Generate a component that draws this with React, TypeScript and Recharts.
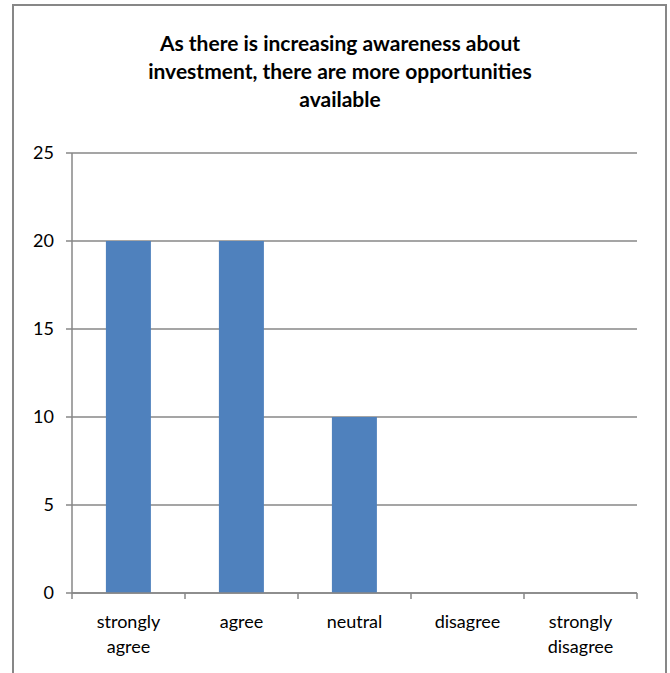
import { BarChart, Bar, XAxis, YAxis, CartesianGrid } from "recharts";

const categories = ["strongly agree", "agree", "neutral", "disagree", "strongly disagree"];
const responses = [20, 20, 10, 0, 0];
const yTicks = [0, 5, 10, 15, 20, 25];

const data = categories.map((name, i) => ({ name, value: responses[i] }));

const FONT = "Lato, 'Open Sans', sans-serif";
const GRAY = "#878787";

// category label plus the tick marks at the band edges
function CategoryTick(props: any) {
  const { x, y, payload, index, visibleTicksCount } = props;
  const half = payload.offset || 0;
  const lines = String(payload.value).split(" ");
  const isLast = index === visibleTicksCount - 1;
  return (
    <g>
      <line x1={x - half} x2={x - half} y1={y} y2={y + 6} stroke={GRAY} strokeWidth={1.5} />
      {isLast && (
        <line x1={x + half} x2={x + half} y1={y} y2={y + 6} stroke={GRAY} strokeWidth={1.5} />
      )}
      <text x={x} y={y} textAnchor="middle" fontFamily={FONT} fontSize={18} fill="#000">
        {lines.map((line, i) => (
          <tspan key={i} x={x} dy={i === 0 ? 35 : 25}>
            {line}
          </tspan>
        ))}
      </text>
    </g>
  );
}

export default function App() {
  return (
    <div
      style={{
        position: "absolute",
        left: 0,
        top: 0,
        width: 670,
        height: 673,
        overflow: "hidden",
        background: "#fff",
      }}
    >
      <div
        style={{
          position: "absolute",
          left: 12,
          top: 4,
          width: 651,
          height: 720,
          border: `2px solid ${GRAY}`,
        }}
      />
      <div
        style={{
          position: "absolute",
          left: 0,
          top: 29,
          width: 680,
          textAlign: "center",
          fontFamily: FONT,
          fontWeight: 700,
          fontSize: 21,
          lineHeight: "28px",
          color: "#000",
        }}
      >
        As there is increasing awareness about
        <br />
        investment, there are more opportunities
        <br />
        available
      </div>
      <BarChart
        width={670}
        height={673}
        data={data}
        margin={{ top: 153, right: 33, bottom: 0, left: 0 }}
        barCategoryGap="30%"
        style={{ position: "absolute", left: 0, top: 0 }}
      >
        <CartesianGrid vertical={false} stroke={GRAY} strokeWidth={1.5} />
        <XAxis
          dataKey="name"
          height={80}
          interval={0}
          tickSize={0}
          tickMargin={0}
          tick={<CategoryTick />}
          tickLine={false}
          axisLine={{ stroke: GRAY, strokeWidth: 1.5 }}
        />
        <YAxis
          width={72}
          domain={[0, 25]}
          ticks={yTicks}
          tickSize={6}
          tickMargin={12}
          interval={0}
          tick={{ fontFamily: FONT, fontSize: 18, fill: "#000" }}
          tickLine={{ stroke: GRAY, strokeWidth: 1.5 }}
          axisLine={{ stroke: GRAY, strokeWidth: 1.5 }}
        />
        <Bar dataKey="value" fill="#4f81bd" isAnimationActive={false} />
      </BarChart>
    </div>
  );
}
